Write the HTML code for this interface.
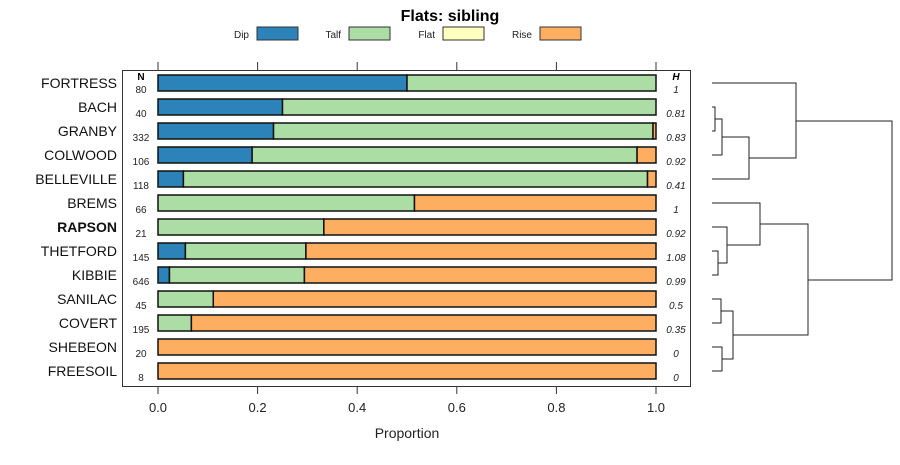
<!DOCTYPE html>
<html><head><meta charset="utf-8"><style>
body{margin:0;background:#fff;}
svg{font-family:"Liberation Sans",sans-serif;}
</style></head><body>
<svg id="c" width="900" height="460" xmlns="http://www.w3.org/2000/svg"></svg>
<script>
const sites=["FORTRESS","BACH","GRANBY","COLWOOD","BELLEVILLE","BREMS","RAPSON","THETFORD","KIBBIE","SANILAC","COVERT","SHEBEON","FREESOIL"];
const nVals=[80,40,332,106,118,66,21,145,646,45,195,20,8];
const hVals=["1","0.81","0.83","0.92","0.41","1","0.92","1.08","0.99","0.5","0.35","0","0"];
const dip=[0.5,0.25,0.232,0.189,0.051,0,0,0.055,0.023,0,0,0,0];
const talf=[0.5,0.75,0.762,0.773,0.932,0.515,0.333,0.242,0.271,0.111,0.067,0,0];
const flat=[0,0,0,0,0,0,0,0,0,0,0,0,0];
const rise=[0,0,0.006,0.038,0.017,0.485,0.667,0.703,0.706,0.889,0.933,1,1];
const seriesNames=["Dip","Talf","Flat","Rise"];
const colors=["#2b83ba","#abdda4","#ffffbf","#fdae61"];
const xTicks=[0,0.2,0.4,0.6,0.8,1];
const tickLabels=["0.0","0.2","0.4","0.6","0.8","1.0"];
const S="http://www.w3.org/2000/svg";
const svg=document.getElementById('c');
function mk(t,a,txt){const e=document.createElementNS(S,t);for(const k in a)e.setAttribute(k,a[k]);if(txt!==undefined)e.textContent=txt;svg.appendChild(e);return e;}
const x=v=>158+v*498;
const y=i=>83+i*24;
let e;
e=mk('text',{x:450,y:21,'text-anchor':'middle','font-size':16,'font-weight':'bold'},'Flats: sibling');

const lgX=[257,349,443,540];
seriesNames.forEach((n,k)=>{
 e=mk('text',{x:lgX[k]-8,y:38,'text-anchor':'end','font-size':10,fill:'#222'},n);
 
 e=mk('rect',{x:lgX[k],y:27,width:41,height:13,fill:colors[k],stroke:'#333','stroke-width':1});
 
});
e=mk('rect',{x:122.5,y:70.5,width:568,height:316,fill:'none',stroke:'#333','stroke-width':1});

xTicks.forEach((t,k)=>{
 e=mk('line',{x1:x(t),x2:x(t),y1:62,y2:70,stroke:'#333'});
 
 e=mk('line',{x1:x(t),x2:x(t),y1:387,y2:394,stroke:'#333'});
 
 e=mk('text',{x:x(t),y:412,'text-anchor':'middle','font-size':13,fill:'#222'},tickLabels[k]);
 
});
e=mk('text',{x:407,y:438,'text-anchor':'middle','font-size':14,fill:'#222'},'Proportion');

e=mk('text',{x:141,y:80,'text-anchor':'middle','font-size':10,'font-weight':'bold'},'N');

e=mk('text',{x:676,y:80,'text-anchor':'middle','font-size':10,'font-weight':'bold','font-style':'italic'},'H');

sites.forEach((s,i)=>{
 const yc=y(i);
 e=mk('text',{x:117,y:yc+5,'text-anchor':'end','font-size':14,'font-weight':s==='RAPSON'?'bold':'normal',fill:'#111'},s);
 
 e=mk('text',{x:141,y:yc+10,'text-anchor':'middle','font-size':10,fill:'#222'},nVals[i]);
 
 e=mk('text',{x:676,y:yc+10,'text-anchor':'middle','font-size':10,'font-style':'italic',fill:'#222'},hVals[i]);
 
 const vals=[dip[i],talf[i],flat[i],rise[i]];
 let c=0;
 vals.forEach((v,k)=>{
  if(v<=0)return;
  e=mk('rect',{x:x(c),y:yc-8,width:x(c+v)-x(c),height:16,fill:colors[k],stroke:'#111','stroke-width':1.5});
  
  c+=v;
 });
});
// dendrogram: [childA x, childA y, childB x, childB y, join x]
const L=712;
const segs=[
 [L,y(1),L,y(2),715],
 [715,119,L,y(3),722],
 [722,137,L,y(4),749],
 [L,y(0),749,158,796],
 [L,y(7),L,y(8),718],
 [L,y(6),718,263,727],
 [L,y(5),727,245,760],
 [L,y(9),L,y(10),721],
 [L,y(11),L,y(12),722],
 [721,311,722,359,733],
 [760,224,733,335,808],
 [796,121,808,280,892]
];
segs.forEach(([xa,ya,xb,yb,xj])=>{
 e=mk('path',{d:`M${xa},${ya}H${xj}V${yb}H${xb}`,fill:'none',stroke:'#222','stroke-width':1});
 
});
</script>
</body></html>
